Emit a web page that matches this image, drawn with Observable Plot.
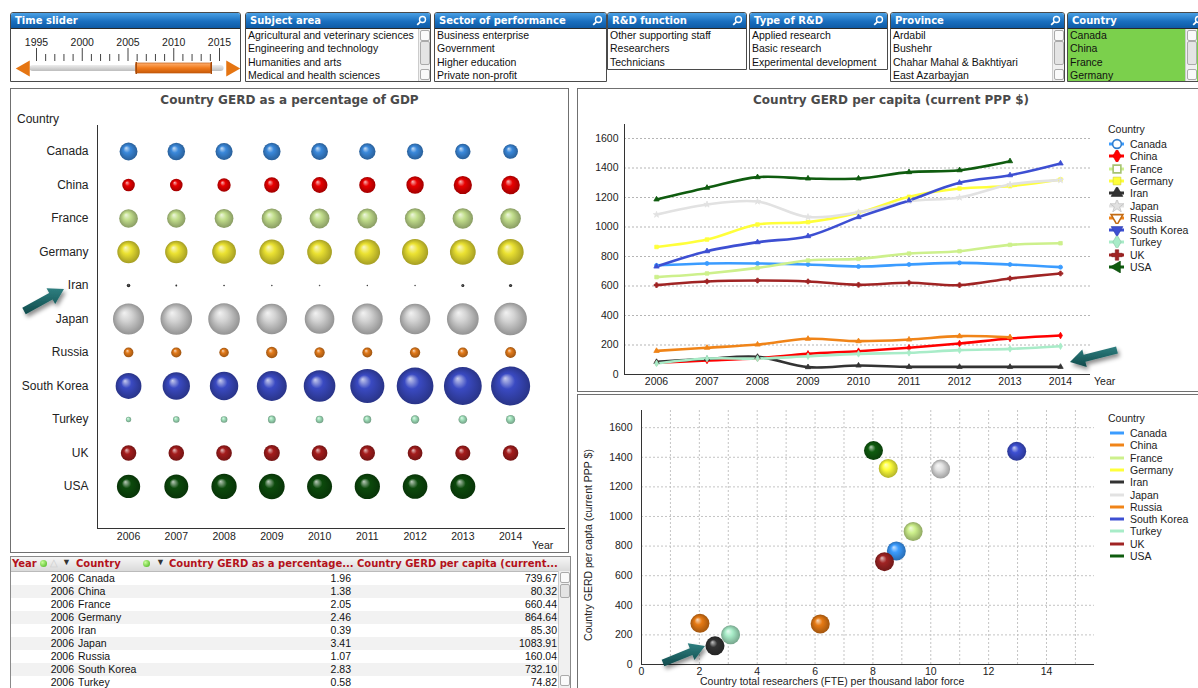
<!DOCTYPE html>
<html><head><meta charset="utf-8">
<script src="https://cdn.jsdelivr.net/npm/d3@7"></script>
<script src="https://cdn.jsdelivr.net/npm/@observablehq/plot@0.6"></script>
<style>
html,body{margin:0;padding:0}
body{width:1198px;height:688px;overflow:hidden;position:relative;background:#fff;font-family:"Liberation Sans",Arial,sans-serif;font-size:10.5px;color:#111}
.a{position:absolute;white-space:nowrap}
.box{position:absolute;box-sizing:border-box;border:1px solid #707070;background:#fff}
.lb{position:absolute;box-sizing:border-box;border:1px solid #4a4a4a;border-radius:3px 3px 0 0;background:#fff;overflow:hidden}
.lb .hd{height:16px;box-sizing:border-box;background:linear-gradient(#4aa0e4,#1a6fbf 55%,#0e5aa5);color:#fff;font:bold 10px "DejaVu Sans",sans-serif;line-height:15px;padding-left:4px;border-bottom:1px solid #2a2a2a;position:relative}
.lb .it{height:13.4px;line-height:13.4px;padding-left:2px;white-space:nowrap;font-size:10.5px;color:#111}
.lb.green .it{background:#7bd04c}
.lb.green{background:#7bd04c}
.sb{position:absolute;top:16px;bottom:0;width:11px;background:#f0f0f0;border-left:1px solid #ccc}
.sb .up,.sb .dn{position:absolute;left:1px;width:8px;height:9px;border:1px solid #aaa;border-radius:2px;background:#fafafa}
.sb .up{top:1px}.sb .dn{bottom:1px}
.sb .th{position:absolute;left:1px;top:12px;width:8px;height:22px;border:1px solid #aaa;border-radius:2px;background:#e4e4e4}
.title{position:absolute;font:bold 12px "DejaVu Sans",sans-serif;color:#4a4a4a;text-align:center}
.leg{position:absolute;font-size:10.5px;color:#222}
.leg .row{position:absolute;left:0;height:12px;line-height:12px;white-space:nowrap}
.tbl{position:absolute;left:10px;top:556px;width:561px;height:134px;box-sizing:border-box;border:1px solid #8a8a8a;overflow:hidden;background:#fff}
.th{font:bold 10px "DejaVu Sans",sans-serif;color:#b3121b}
</style></head>
<body>
<svg width="0" height="0" style="position:absolute"><defs id="defs"></defs></svg>
<div id="root"></div>
<script>
// ---------------- DATA ----------------
const countries = ["Canada","China","France","Germany","Iran","Japan","Russia","South Korea","Turkey","UK","USA"];
const years = [2006,2007,2008,2009,2010,2011,2012,2013,2014];

// Country GERD as a percentage of GDP (per year 2006..2014)
const pctCanada     = [1.96,1.92,1.87,1.92,1.84,1.79,1.78,1.69,1.61];
const pctChina      = [1.38,1.38,1.46,1.68,1.73,1.78,1.91,2.00,2.03];
const pctFrance     = [2.05,2.02,2.06,2.21,2.18,2.19,2.23,2.24,2.26];
const pctGermany    = [2.46,2.45,2.60,2.73,2.71,2.80,2.87,2.82,2.87];
const pctIran       = [0.39,0.20,0.18,0.16,0.16,0.15,0.15,0.33,0.35];
const pctJapan      = [3.41,3.46,3.47,3.36,3.25,3.38,3.34,3.48,3.58];
const pctRussia     = [1.07,1.12,1.04,1.25,1.13,1.09,1.13,1.12,1.19];
const pctSouthKorea = [2.83,3.00,3.12,3.29,3.47,3.74,4.03,4.15,4.29];
const pctTurkey     = [0.58,0.71,0.73,0.85,0.84,0.86,0.92,0.95,1.01];
const pctUK         = [1.70,1.71,1.72,1.76,1.72,1.69,1.62,1.66,1.70];
const pctUSA        = [2.55,2.63,2.77,2.82,2.74,2.77,2.70,2.74,null];

// Country GERD per capita (current PPP $) (per year 2006..2014)
const capCanada     = [739.67,753,753,746,732,746,757,746,728];
const capChina      = [80.32,95,111,140,158,181,210,244,264];
const capFrance     = [660.44,685,723,773,784,820,836,879,890];
const capGermany    = [864.64,915,1017,1033,1096,1205,1261,1277,1322];
const capIran       = [85.30,106,120,50,61,52,52,52,52];
const capJapan      = [1083.91,1153,1173,1068,1100,1175,1200,1288,1318];
const capRussia     = [160.04,181,203,242,226,237,260,253,null];
const capSouthKorea = [732.10,836,897,938,1067,1180,1300,1351,1431];
const capTurkey     = [74.82,108,108,124,140,147,165,174,192];
const capUK         = [606.20,631,637,631,608,622,606,651,685];
const capUSA        = [1187,1266,1338,1329,1329,1372,1385,1446,null];

// Scatter: researchers (FTE) per thousand labor force vs GERD per capita
const scatterResearchers = [8.81,2.02,9.39,8.53,2.54,10.34,6.18,12.97,3.08,8.40,8.02];
const scatterPerCapita   = [767,278,898,1325,126,1320,273,1440,201,695,1445];

// Filter list boxes
const subjectAreas = ["Agricultural and veterinary sciences","Engineering and technology","Humanities and arts","Medical and health sciences"];
const sectors = ["Business enterprise","Government","Higher education","Private non-profit"];
const rdFunctions = ["Other supporting staff","Researchers","Technicians"];
const rdTypes = ["Applied research","Basic research","Experimental development"];
const provinces = ["Ardabil","Bushehr","Chahar Mahal & Bakhtiyari","East Azarbayjan"];
const sliderLabels = [1995,2000,2005,2010,2015];
const sliderSelection = [2006,2014];

// ---------------- STYLES ----------------
const bubbleColors  = ["#3a88da","#e80000","#c2de8c","#ebe232","#333333","#d2d2d2","#e27a1a","#3a4ac2","#a2e2bc","#a41c1c","#0c4a0c"];
const lineColors    = ["#3b9cff","#ff0000","#cdf08c","#ffff3a","#333333","#e2e2e2","#f08418","#3d4fd2","#a8ecc8","#a02424","#0f5c0f"];
const scatterColors = ["#3b9cff","#f08418","#cdf08c","#ffff3a","#333333","#e2e2e2","#f08418","#3d4fd2","#a8ecc8","#a02424","#0f5c0f"];
const lineSymbols   = ["circle","diamond","square","square","triangle","star","triangle","triangle","diamond","cross","triangle"];
const legendSymbols = [d3.symbolCircle,d3.symbolDiamond,d3.symbolSquare,d3.symbolSquare,d3.symbolTriangle,d3.symbolStar,d3.symbolTriangle,d3.symbolTriangle,d3.symbolDiamond,d3.symbolCross,d3.symbolTriangle];
const legendRotate  = [0,0,0,0,0,0,180,180,0,0,-90];
const legendHollow  = [true,false,true,false,false,false,true,false,false,false,false];

const pctSeries = [pctCanada,pctChina,pctFrance,pctGermany,pctIran,pctJapan,pctRussia,pctSouthKorea,pctTurkey,pctUK,pctUSA];
const capSeries = [capCanada,capChina,capFrance,capGermany,capIran,capJapan,capRussia,capSouthKorea,capTurkey,capUK,capUSA];

// ---------------- GRADIENTS ----------------
const defs = d3.select("#defs");
function addGrad(id, color){
  const light = d3.interpolateRgb(color, "#ffffff")(0.72);
  const dark = d3.color(color).darker(1.0).formatHex();
  const g = defs.append("radialGradient").attr("id",id).attr("cx","50%").attr("cy","50%").attr("r","50%").attr("fx","36%").attr("fy","30%");
  g.append("stop").attr("offset","0%").attr("stop-color",light);
  g.append("stop").attr("offset","40%").attr("stop-color",color);
  g.append("stop").attr("offset","100%").attr("stop-color",dark);
}
bubbleColors.forEach((c,i)=>addGrad("bg"+i,c));
scatterColors.forEach((c,i)=>addGrad("sg"+i,c==="#f08418"?"#e67a14":c));
{
  const g = defs.append("linearGradient").attr("id","orangeG").attr("x1",0).attr("y1",0).attr("x2",0).attr("y2",1);
  g.append("stop").attr("offset","0%").attr("stop-color","#ffb070");
  g.append("stop").attr("offset","50%").attr("stop-color","#f07a1c");
  g.append("stop").attr("offset","100%").attr("stop-color","#c85a08");
  const t = defs.append("linearGradient").attr("id","trackG").attr("x1",0).attr("y1",0).attr("x2",0).attr("y2",1);
  t.append("stop").attr("offset","0%").attr("stop-color","#eeeeee");
  t.append("stop").attr("offset","100%").attr("stop-color","#bdbdbd");
  const ag = defs.append("linearGradient").attr("id","arrowG").attr("x1",0).attr("y1",0).attr("x2",0).attr("y2",1);
  ag.append("stop").attr("offset","0%").attr("stop-color","#2f7f80");
  ag.append("stop").attr("offset","100%").attr("stop-color","#0f4a4b");
  const f = defs.append("filter").attr("id","shadow").attr("x","-30%").attr("y","-30%").attr("width","160%").attr("height","160%");
  f.append("feDropShadow").attr("dx",2).attr("dy",3).attr("stdDeviation",2).attr("flood-color","#000").attr("flood-opacity",0.45);
}

const root = document.getElementById("root");
function el(html){ const d=document.createElement("div"); d.innerHTML=html; const n=d.firstElementChild; root.appendChild(n); return n; }
function place(node,left,top){ node.style.position="absolute"; node.style.left=left+"px"; node.style.top=top+"px"; root.appendChild(node); return node; }

// ---------------- FILTER BAR ----------------
const mag = '<svg width="11" height="11" style="position:absolute;right:3px;top:2px"><circle cx="6.5" cy="4.5" r="3" fill="none" stroke="#fff" stroke-width="1.4"/><line x1="4.3" y1="6.8" x2="1.2" y2="9.8" stroke="#fff" stroke-width="1.8"/></svg>';
function listBox(left,top,width,height,title,items,opts={}){
  const b = el(`<div class="lb${opts.green?" green":""}" style="left:${left}px;top:${top}px;width:${width}px;height:${height}px"></div>`);
  b.innerHTML = `<div class="hd">${title}${opts.mag!==false?mag:""}</div>` + items.map(t=>`<div class="it">${t.replace(/&(?!amp;)/g,"&amp;")}</div>`).join("") + (opts.scroll?`<div class="sb" style="right:0"><div class="up"></div><div class="th"></div><div class="dn"></div></div>`:"");
  return b;
}
const ts = el(`<div class="lb" style="left:10px;top:12px;width:231px;height:70px"><div class="hd">Time slider</div></div>`);
listBox(245,12,186,70,"Subject area",subjectAreas,{scroll:true});
listBox(434,12,173,70,"Sector of performance",sectors,{});
listBox(607,12,140,58,"R&amp;D function",rdFunctions,{});
listBox(749,12,139,58,"Type of R&amp;D",rdTypes,{});
listBox(890,12,175,70,"Province",provinces,{scroll:true});
listBox(1067,12,140,70,"Country",countries.slice(0,4),{green:true,scroll:true}).querySelector(".sb").style.right="9px";

// Time slider drawn with Plot
const sliderYears = d3.range(1995,2016);
const slider = Plot.plot({
  width:228, height:52, marginLeft:25, marginRight:20, marginTop:0, marginBottom:0,
  style:{background:"transparent", fontFamily:"'Liberation Sans',Arial", fontSize:"10.5px", overflow:"visible"},
  x:{domain:[1995,2015], axis:null},
  y:{domain:[0,52], range:[0,52], axis:null},
  marks:[
    Plot.text(sliderLabels,{x:d=>d, y:14, text:d=>String(d), fill:"#222", fontSize:10.5}),
    Plot.ruleX(sliderYears,{x:d=>d, y1:d=>d%5===0?20:26, y2:33, stroke:"#444", strokeWidth:1}),
    Plot.rect([0],{x1:1994.3, x2:2015.5, y1:37, y2:43, fill:"url(#trackG)", rx:3}),
    Plot.rect([sliderSelection],{x1:d=>d[0]-0.1, x2:d=>d[1]+0.1, y1:35, y2:45, fill:"url(#orangeG)", stroke:"#c05a10", strokeWidth:0.7, rx:1}),
    Plot.ruleX([sliderSelection[0]-0.1, sliderSelection[1]+0.1],{y1:34, y2:46, stroke:"#a84a08", strokeWidth:1.5}),
    Plot.dot([0],{x:1993.75, y:40, symbol:"triangle", r:6, rotate:-90, fill:"#e57512"}),
    Plot.dot([0],{x:2016.25, y:40, symbol:"triangle", r:6, rotate:90, fill:"#e57512"})
  ]
});
place(slider, 11, 28);

// ---------------- PANELS ----------------
el(`<div class="box" style="left:10px;top:88px;width:559px;height:465px"></div>`);
el(`<div class="box" style="left:577px;top:88px;width:630px;height:304px"></div>`);
el(`<div class="box" style="left:577px;top:394px;width:630px;height:300px"></div>`);
el(`<div class="title" style="left:10px;top:93px;width:559px">Country GERD as a percentage of GDP</div>`);
el(`<div class="title" style="left:577px;top:93px;width:628px">Country GERD per capita (current PPP $)</div>`);

// ---------------- BUBBLE CHART ----------------
const bubbleData = [];
countries.forEach((c,i)=>years.forEach((y,j)=>{ const v=pctSeries[i][j]; if(v!=null) bubbleData.push({country:c, idx:i, year:y, value:v}); }));
const bubble = Plot.plot({
  width:555, height:440, marginTop:15, marginBottom:22, marginLeft:85, marginRight:2,
  style:{background:"transparent", fontFamily:"'Liberation Sans',Arial", fontSize:"10.5px", color:"#222", overflow:"visible"},
  x:{domain:[2005.35,2015.15]},
  y:{domain:[11.254,-0.776]},
  r:{type:"linear", domain:[0,4.3], range:[0,19.6]},
  color:{type:"ordinal", domain:countries, range:countries.map((c,i)=>`url(#bg${i})`)},
  marks:[
    Plot.ruleX([2005.35],{stroke:"#333"}),
    Plot.ruleY([11.254],{stroke:"#333"}),
    Plot.axisY({ticks:d3.range(countries.length), tickFormat:i=>countries[i], tickSize:0, tickPadding:9, fontSize:12, label:null}),
    Plot.axisX({ticks:years, tickFormat:"d", tickSize:0, tickPadding:4, label:null}),
    Plot.dot(bubbleData,{x:"year", y:"idx", r:"value", fill:"country", stroke:null})
  ]
});
place(bubble, 12, 110);
el(`<div class="a" style="left:17px;top:112px;font-size:12px;color:#222">Country</div>`);
el(`<div class="a" style="left:532px;top:539px;font-size:10.5px;color:#222">Year</div>`);

// ---------------- LINE CHART ----------------
const lineData = countries.flatMap((c,i)=>years.map((y,j)=>({country:c, year:y, value:capSeries[i][j]})).filter(d=>d.value!=null));
const line = Plot.plot({
  width:525, height:282, marginTop:16, marginBottom:16, marginLeft:44, marginRight:15,
  style:{background:"transparent", fontFamily:"'Liberation Sans',Arial", fontSize:"10.5px", color:"#222", overflow:"visible"},
  x:{domain:[2005.366,2014.594]},
  y:{domain:[0,1695]},
  color:{type:"ordinal", domain:countries, range:lineColors},
  symbol:{domain:countries, range:lineSymbols},
  marks:[
    Plot.ruleY(d3.range(200,1601,200),{stroke:"#b5b5b5", strokeDasharray:"2,2"}),
    Plot.ruleX([2005.366],{stroke:"#333"}),
    Plot.ruleY([0],{stroke:"#333"}),
    Plot.axisY({ticks:d3.range(0,1601,200), tickFormat:d=>String(d), tickSize:0, tickPadding:6, label:null}),
    Plot.axisX({ticks:years, tickFormat:"d", tickSize:0, tickPadding:3, label:null}),
    Plot.line(lineData,{x:"year", y:"value", z:"country", stroke:"country", strokeWidth:2.6, curve:"catmull-rom"}),
    Plot.dot(lineData,{x:"year", y:"value", symbol:"country", stroke:"country", fill:"country", r:2, strokeWidth:0.8})
  ]
});
place(line, 580, 108);
el(`<div class="a" style="left:1094px;top:375px;font-size:10.5px;color:#222">Year</div>`);

// legend for line chart
function iconSvg(i){
  const c = lineColors[i];
  const sym = d3.symbol(legendSymbols[i], 60)();
  const hollow = legendHollow[i];
  return `<svg width="18" height="12" style="position:absolute;left:0;top:0"><line x1="1" y1="6" x2="16" y2="6" stroke="${c}" stroke-width="3"/><path d="${sym}" transform="translate(9,6) rotate(${legendRotate[i]})" fill="${hollow?"#fff":c}" stroke="${d3.color(c).darker(0.6)}" stroke-width="${hollow?1.6:0.6}"/></svg>`;
}
const lg1 = el(`<div class="leg" style="left:1108px;top:122px;width:90px;height:160px"></div>`);
lg1.innerHTML = `<div class="row" style="top:1px">Country</div>` + countries.map((c,i)=>`<div class="row" style="top:${16+i*12.3}px">${iconSvg(i)}<span style="position:absolute;left:22px">${c}</span></div>`).join("");

// ---------------- SCATTER ----------------
const scatterData = countries.map((c,i)=>({country:c, researchers:scatterResearchers[i], perCapita:scatterPerCapita[i]}));
const scatter = Plot.plot({
  width:525, height:290, marginTop:12, marginBottom:24, marginLeft:61, marginRight:11,
  style:{background:"transparent", fontFamily:"'Liberation Sans',Arial", fontSize:"10.5px", color:"#222", overflow:"visible"},
  x:{domain:[0,15.66]},
  y:{domain:[0,1716]},
  color:{type:"ordinal", domain:countries, range:countries.map((c,i)=>`url(#sg${i})`)},
  marks:[
    Plot.ruleX(d3.range(1,16),{stroke:"#c4c4c4", strokeDasharray:"2,2"}),
    Plot.ruleY(d3.range(200,1601,200),{stroke:"#c4c4c4", strokeDasharray:"2,2"}),
    Plot.ruleX([0],{stroke:"#333"}),
    Plot.ruleY([0],{stroke:"#333"}),
    Plot.axisY({ticks:d3.range(0,1601,200), tickFormat:d=>String(d), tickSize:0, tickPadding:9, label:null}),
    Plot.axisX({ticks:d3.range(0,15,2), tickSize:0, tickPadding:3, label:null}),
    Plot.dot(scatterData,{x:"researchers", y:"perCapita", r:9.5, fill:"country", stroke:null})
  ]
});
place(scatter, 580, 398);
el(`<div class="a" style="left:588px;top:545px;font-size:10.5px;color:#222;transform:translate(-50%,-50%) rotate(-90deg)">Country GERD per capta (current PPP $)</div>`);
el(`<div class="a" style="left:700px;top:675px;font-size:10.5px;line-height:12px;color:#222">Country total researchers (FTE) per thousand labor force</div>`);
const lg2 = el(`<div class="leg" style="left:1108px;top:411px;width:90px;height:160px"></div>`);
lg2.innerHTML = `<div class="row" style="top:1px">Country</div>` + countries.map((c,i)=>`<div class="row" style="top:${16+i*12.3}px"><svg width="18" height="12" style="position:absolute;left:0;top:0"><line x1="2" y1="6" x2="16" y2="6" stroke="${scatterColors[i]}" stroke-width="3"/></svg><span style="position:absolute;left:22px">${c}</span></div>`).join("");

// ---------------- TABLE ----------------
const tbl = el(`<div class="tbl"></div>`);
const RH = 13.0;
let th = `<div style="position:absolute;left:0;top:0;width:100%;height:14px;background:linear-gradient(#f6f6f6,#dadada);border-bottom:1px solid #bbb"></div>`;
const hx = x=>x-11;
th += `<div class="a th" style="left:${hx(12)}px;top:1px">Year</div>`;
th += `<div class="a" style="left:${hx(40)}px;top:3px;width:7px;height:7px;border-radius:50%;background:radial-gradient(circle at 35% 35%,#c8ff9a,#3fae12)"></div>`;
th += `<div class="a" style="left:${hx(50)}px;top:0px;color:#ccc;font-size:10px">△</div>`;
th += `<div class="a" style="left:${hx(62)}px;top:0px;color:#333;font-size:9px">▼</div>`;
th += `<div class="a th" style="left:${hx(76)}px;top:1px">Country</div>`;
th += `<div class="a" style="left:${hx(143)}px;top:3px;width:7px;height:7px;border-radius:50%;background:radial-gradient(circle at 35% 35%,#c8ff9a,#3fae12)"></div>`;
th += `<div class="a" style="left:${hx(156)}px;top:0px;color:#333;font-size:9px">▼</div>`;
th += `<div class="a th" style="left:${hx(169)}px;top:1px">Country GERD as a percentage...</div>`;
th += `<div class="a th" style="left:${hx(357)}px;top:1px">Country GERD per capita (current...</div>`;
let rows = "";
countries.slice(0,9).forEach((c,i)=>{
  const top = 14.5 + i*RH;
  rows += `<div style="position:absolute;left:0;top:${top}px;width:548px;height:${RH}px;background:${i%2?"#f2f2f2":"#fff"}"></div>`;
  rows += `<div class="a" style="right:${571-75}px;top:${top}px;line-height:${RH}px">${years[0]}</div>`;
  rows += `<div class="a" style="left:${hx(78)}px;top:${top}px;line-height:${RH}px">${c}</div>`;
  rows += `<div class="a" style="right:${571-352}px;top:${top}px;line-height:${RH}px">${pctSeries[i][0].toFixed(2)}</div>`;
  rows += `<div class="a" style="right:${571-558}px;top:${top}px;line-height:${RH}px">${capSeries[i][0].toFixed(2)}</div>`;
});
const sb = `<div style="position:absolute;right:0;top:14px;width:11px;bottom:0;background:#f0f0f0;border-left:1px solid #ccc"><div style="position:absolute;left:1px;top:1px;width:8px;height:9px;border:1px solid #aaa;border-radius:2px;background:#fafafa"></div><div style="position:absolute;left:1px;top:13px;width:8px;height:12px;border:1px solid #aaa;border-radius:2px;background:#e4e4e4"></div><div style="position:absolute;left:1px;bottom:3px;width:8px;height:9px;border:1px solid #aaa;border-radius:2px;background:#fafafa"></div></div>`;
tbl.innerHTML = rows + th + sb;

// ---------------- ANNOTATION ARROWS ----------------
function arrowPts(x0,y0,x1,y1,sw,hw,hl){
  const dx=x1-x0, dy=y1-y0, L=Math.hypot(dx,dy), ux=dx/L, uy=dy/L, px=-uy, py=ux;
  const bx=x1-ux*hl, by=y1-uy*hl;
  return [[x0+px*sw,y0+py*sw],[bx+px*sw,by+py*sw],[bx+px*hw,by+py*hw],[x1,y1],[bx-px*hw,by-py*hw],[bx-px*sw,by-py*sw],[x0-px*sw,y0-py*sw]].map(p=>p.join(",")).join(" ");
}
const ov = d3.select(root).append("svg").attr("width",1198).attr("height",688).style("position","absolute").style("left",0).style("top",0).style("pointer-events","none");
[[24,311,64,289],[1117,350,1070,362],[663,663,705,646]].forEach(a=>{
  ov.append("polygon").attr("points",arrowPts(a[0],a[1],a[2],a[3],3.6,9,15)).attr("fill","url(#arrowG)").attr("filter","url(#shadow)");
});
</script>
</body></html>
